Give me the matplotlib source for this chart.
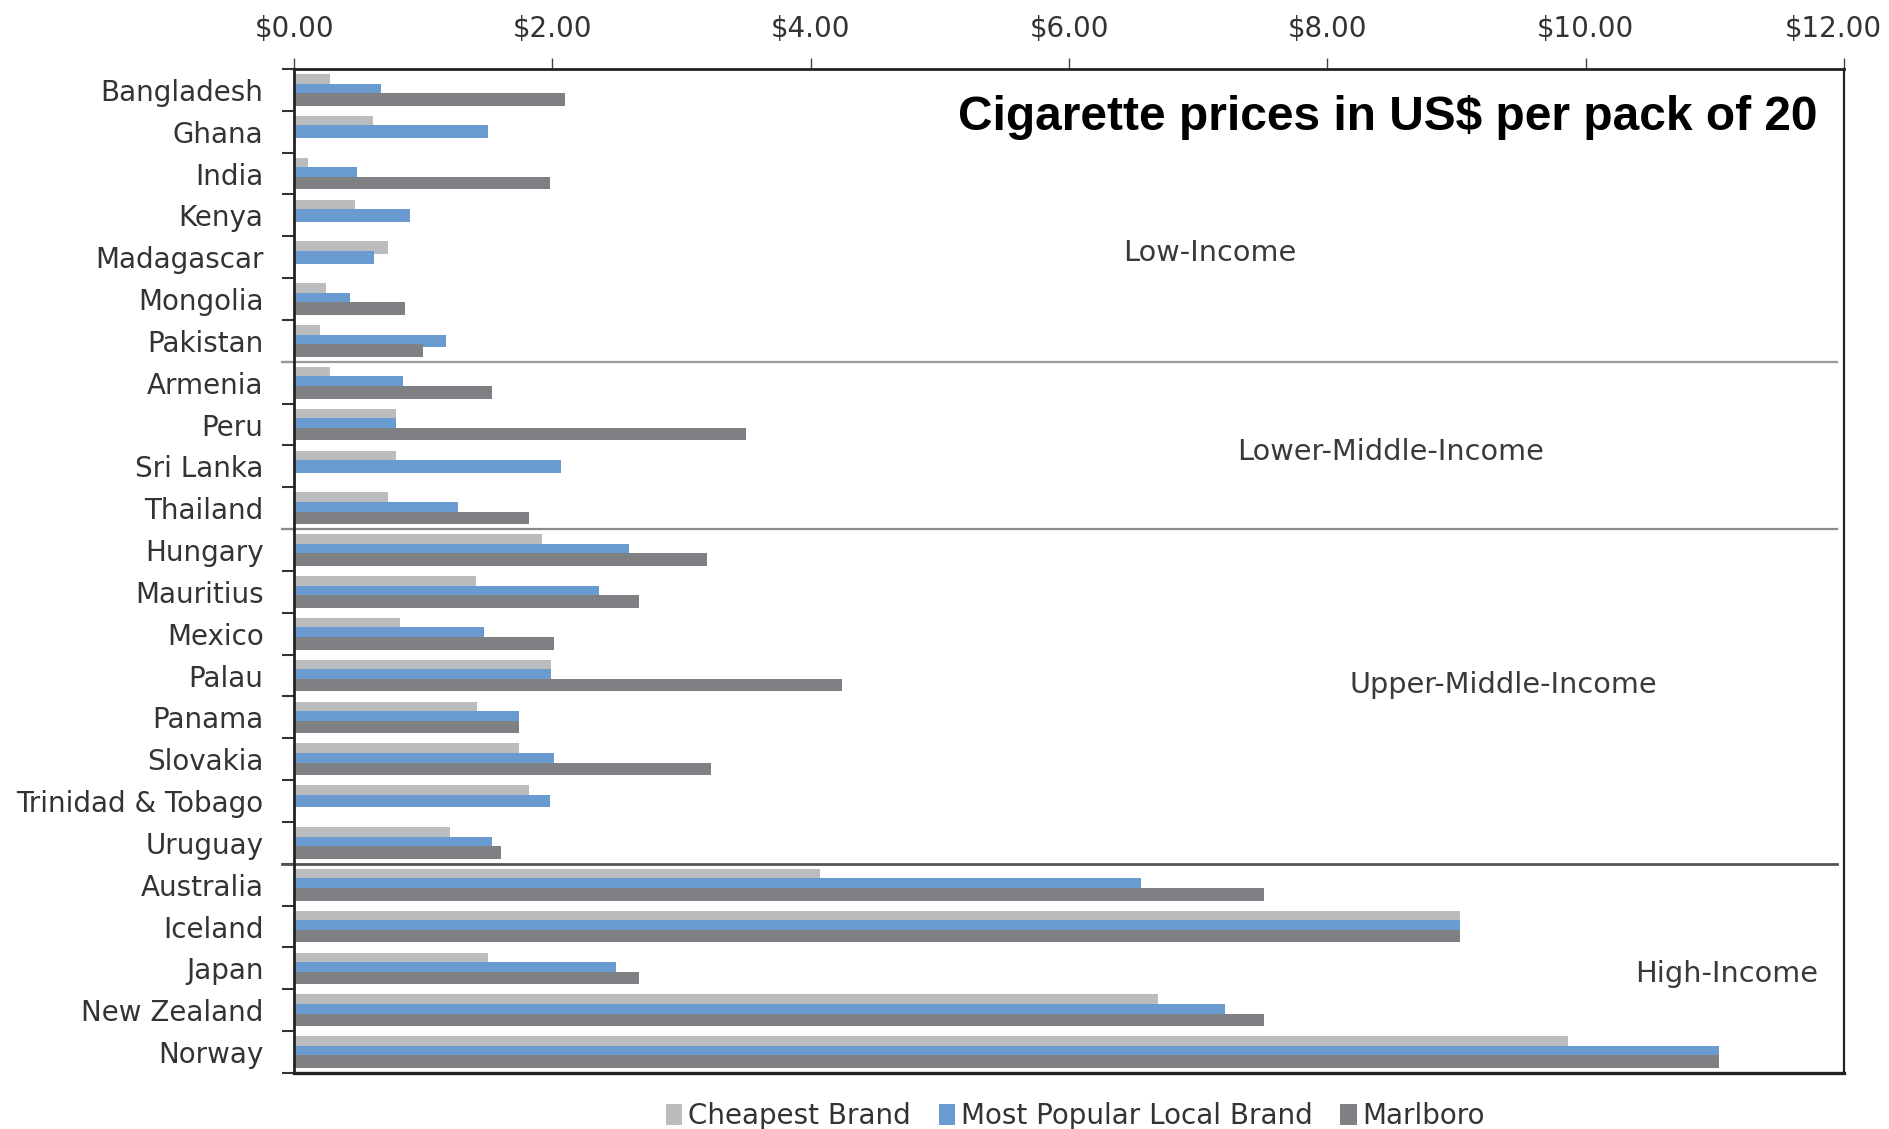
import numpy as np
import matplotlib.pyplot as plt
from matplotlib import font_manager
from matplotlib.patches import Patch
from matplotlib.transforms import ScaledTranslation

# 各国香烟价格（美元 / 20支）
countries = ["Bangladesh", "Ghana", "India", "Kenya", "Madagascar", "Mongolia", "Pakistan",
             "Armenia", "Peru", "Sri Lanka", "Thailand",
             "Hungary", "Mauritius", "Mexico", "Palau", "Panama", "Slovakia",
             "Trinidad & Tobago", "Uruguay",
             "Australia", "Iceland", "Japan", "New Zealand", "Norway"]
cheapest = [0.28, 0.61, 0.11, 0.47, 0.73, 0.25, 0.20,
            0.28, 0.79, 0.79, 0.73,
            1.92, 1.41, 0.82, 1.99, 1.42, 1.74, 1.82, 1.21,
            4.07, 9.03, 1.50, 6.69, 9.86]
popular = [0.67, 1.50, 0.49, 0.90, 0.62, 0.43, 1.18,
           0.84, 0.79, 2.07, 1.27,
           2.59, 2.36, 1.47, 1.99, 1.74, 2.01, 1.98, 1.53,
           6.56, 9.03, 2.49, 7.21, 11.03]
marlboro = [2.10, np.nan, 1.98, np.nan, np.nan, 0.86, 1.00,
            1.53, 3.50, np.nan, 1.82,
            3.20, 2.67, 2.01, 4.24, 1.74, 3.23, np.nan, 1.60,
            7.51, 9.03, 2.67, 7.51, 11.03]

series_names = ["Cheapest Brand", "Most Popular Local Brand", "Marlboro"]
colors = ["#bbbcbe", "#6a9bd0", "#7f8083"]

# 收入分组：分隔线位置、标签及其位置
group_breaks = [6.5, 10.5, 18.5]
break_colors = ["#9a9a9a", "#8a8a8a", "#555555"]
group_labels = ["Low-Income", "Lower-Middle-Income", "Upper-Middle-Income", "High-Income"]
group_label_x = [7.09, 8.49, 9.36, 11.09]
group_label_y = [3.9, 8.66, 14.22, 21.13]

names = {f.name for f in font_manager.fontManager.ttflist}
title_font = "Liberation Sans Narrow" if "Liberation Sans Narrow" in names else "Liberation Sans"

plt.rcParams["font.family"] = ["DejaVu Sans"]
text_color = "#333333"

fig = plt.figure(figsize=(18.9, 11.29), dpi=100)
ax = fig.add_axes([0.1556, 0.0496, 0.8201, 0.8893])

y = np.arange(len(countries))
h = 0.30
s = 0.23
for i, vals in enumerate([cheapest, popular, marlboro]):
    ax.barh(y + (i - 1) * s, vals, height=h, color=colors[i], linewidth=0)

ax.set_xlim(0, 12)
ax.set_ylim(len(countries) - 0.5, -0.5)

# 顶部 x 轴
ax.xaxis.tick_top()
ax.set_xticks(np.arange(0, 13, 2))
ax.set_xticklabels([f"${v:.2f}" for v in np.arange(0, 13, 2)])
ax.tick_params(axis="x", direction="out", length=8, width=1, color="#444444",
               pad=11, labelsize=20, labelcolor=text_color)
# 最右侧标签稍微左移，避免超出画布
last = ax.get_xticklabels()[-1]
last.set_transform(last.get_transform() + ScaledTranslation(-0.11, 0, fig.dpi_scale_trans))

# y 轴：标签在类别中心，刻度线在类别边界
ax.set_yticks(y)
ax.set_yticklabels(countries)
ax.set_yticks(np.arange(-0.5, len(countries), 1), minor=True)
ax.tick_params(axis="y", which="major", length=0, pad=22, labelsize=20, labelcolor=text_color)
ax.tick_params(axis="y", which="minor", direction="out", length=9, width=1.5, color="#333333")

for side, lw in [("top", 2.0), ("left", 2.0), ("right", 1.6), ("bottom", 2.4)]:
    ax.spines[side].set_linewidth(lw)
    ax.spines[side].set_color("#222222")

for yb, c in zip(group_breaks, break_colors):
    ax.plot([-0.008, 0.9955], [yb, yb], color=c, lw=1.6 if c != "#555555" else 2.0,
            transform=ax.get_yaxis_transform(), clip_on=False)

for lab, gx, gy in zip(group_labels, group_label_x, group_label_y):
    ax.text(gx, gy, lab, ha="center", va="center", fontsize=20.7, color="#3a3a3a")

ax.text(0.983, 0.952, "Cigarette prices in US$ per pack of 20", transform=ax.transAxes,
        ha="right", va="center", fontsize=34.5, fontweight="bold", family=[title_font],
        color="black")

handles = [Patch(facecolor=c, edgecolor="none") for c in colors]
fig.legend(handles, series_names, loc="center", bbox_to_anchor=(0.569, 0.0115),
           ncol=3, frameon=False, fontsize=20, handlelength=0.6, handleheight=0.75,
           handletextpad=0.2, columnspacing=1.0, labelcolor=text_color)

fig.savefig("out.png", dpi=100, facecolor="white")
